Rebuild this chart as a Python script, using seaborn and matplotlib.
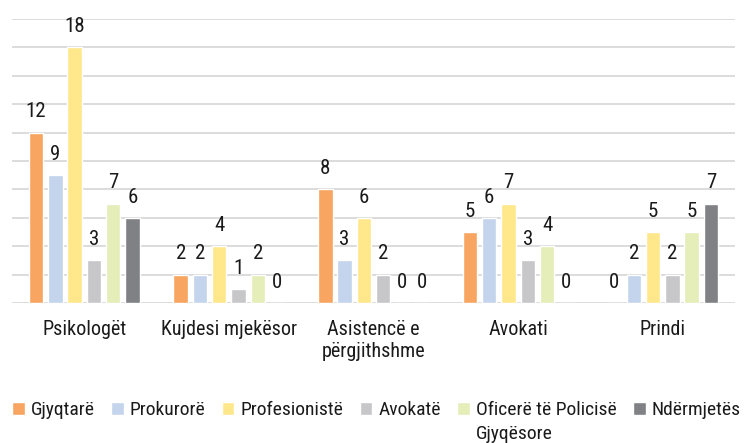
import matplotlib
matplotlib.use("Agg")
import matplotlib.pyplot as plt
import seaborn as sns
import pandas as pd

categories = ["Psikologët", "Kujdesi mjekësor", "Asistencë e\npërgjithshme", "Avokati", "Prindi"]
series = ["Gjyqtarë", "Prokurorë", "Profesionistë", "Avokatë", "Oficerë të Policisë", "Ndërmjetës"]
gjyqtare = [12, 2, 8, 5, 0]
prokurore = [9, 2, 3, 6, 2]
profesioniste = [18, 4, 6, 7, 5]
avokate = [3, 1, 2, 3, 2]
oficere = [7, 2, 0, 4, 5]
ndermjetes = [6, 0, 0, 0, 7]
colors = ["#F7A560", "#C4D4EC", "#FFE78B", "#C7C7C9", "#E5EDB9", "#808185"]

values = [gjyqtare, prokurore, profesioniste, avokate, oficere, ndermjetes]
rows = []
for s, vals in zip(series, values):
    for c, v in zip(categories, vals):
        rows.append({"cat": c, "series": s, "value": v})
df = pd.DataFrame(rows)

sns.set_style("white")
FONT = ["Roboto Condensed", "Roboto", "DejaVu Sans"]
plt.rcParams["font.family"] = FONT
FS = 15
LFS = 14

fig = plt.figure(figsize=(7.47, 4.43), dpi=100)
ax = fig.add_axes([12 / 747, 1 - 303 / 443, 723 / 747, 284 / 443])

sns.barplot(data=df, x="cat", y="value", hue="series", order=categories,
            hue_order=series, palette=colors, width=0.8, gap=0.25,
            saturation=1, ax=ax, legend=True)

for cont in ax.containers:
    ax.bar_label(cont, fmt="%d", padding=8, fontsize=FS, color="#1a1a1a")

ax.set_ylim(0, 20)
ax.set_xlim(-0.5, 4.5)
ax.set_yticks(range(0, 21, 2))
ax.yaxis.grid(True, color="#d9d9d9", lw=1.3)
ax.set_axisbelow(True)
ax.tick_params(axis="y", left=False, labelleft=False)
ax.tick_params(axis="x", length=0, pad=12, labelsize=14.5, labelcolor="#1a1a1a")
for sp in ax.spines.values():
    sp.set_visible(False)
ax.set_xlabel("")
ax.set_ylabel("")

handles, labels = ax.get_legend_handles_labels()
ax.get_legend().remove()
leg = fig.legend(handles, labels, loc="upper left", bbox_to_anchor=(12 / 747, 1 - 401 / 443),
                 ncol=6, frameon=False, fontsize=LFS, handlelength=0.65, handleheight=0.65,
                 handletextpad=0.3, columnspacing=0.85, borderpad=0, borderaxespad=0)
for t in leg.get_texts():
    t.set_color("#1a1a1a")

fig.canvas.draw()
tb = leg.get_texts()[4].get_window_extent()
fig.text(tb.x0 / 747, (tb.y0 - 6) / 443, "Gjyqësore", fontsize=LFS, color="#1a1a1a",
         ha="left", va="top")

fig.savefig("out.png", dpi=100)
